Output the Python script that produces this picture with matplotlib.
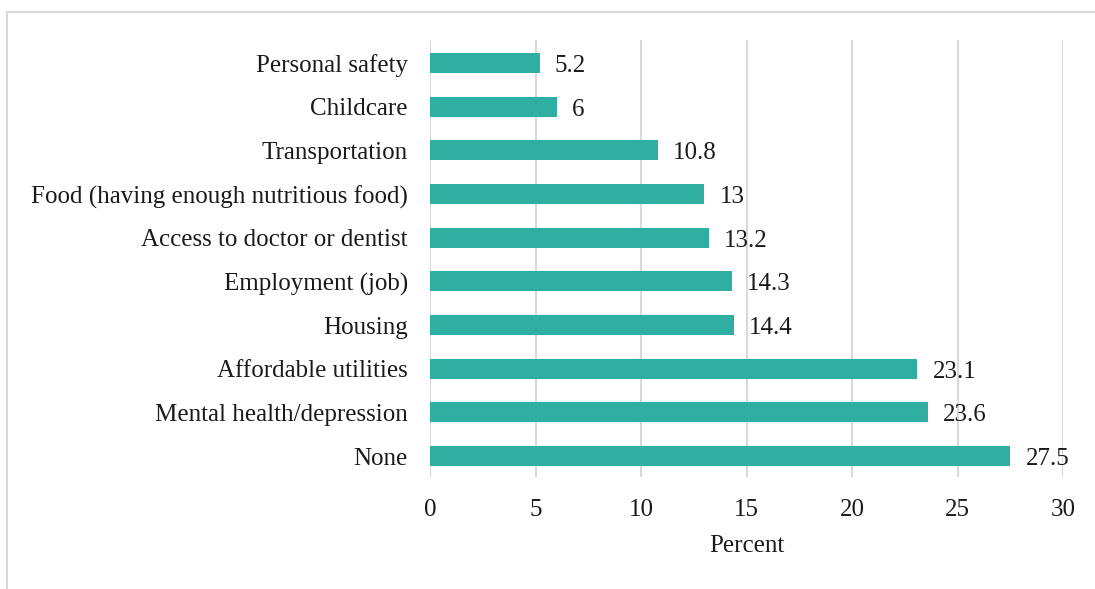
import matplotlib.pyplot as plt
from matplotlib.lines import Line2D

categories = ["None", "Mental health/depression", "Affordable utilities", "Housing",
              "Employment (job)", "Access to doctor or dentist",
              "Food (having enough nutritious food)", "Transportation", "Childcare",
              "Personal safety"]
values = [27.5, 23.6, 23.1, 14.4, 14.3, 13.2, 13, 10.8, 6, 5.2]
value_labels = ["27.5", "23.6", "23.1", "14.4", "14.3", "13.2", "13", "10.8", "6", "5.2"]

plt.rcParams['font.family'] = ['Liberation Serif', 'DejaVu Serif']

fig = plt.figure(figsize=(10.95, 5.89), dpi=100)
ax = fig.add_axes([430 / 1095, 1 - 477 / 589, 633 / 1095, 437 / 589])

pos = list(range(len(categories)))
ax.barh(pos, values, height=0.46, color="#2EAFA2", zorder=2)

for p, v, lab in zip(pos, values, value_labels):
    ax.annotate(lab, (v, p), xytext=(11, -2), textcoords="offset points",
                va="center", ha="left", fontsize=18, color="#1a1a1a")

ax.set_yticks(pos)
ax.set_yticklabels(categories, fontsize=18, color="#1a1a1a")
ax.set_xlim(0, 30)
ax.set_ylim(-0.48, 9.53)
ax.set_xticks(range(0, 31, 5))
ax.tick_params(axis="x", labelsize=18, colors="#1a1a1a", length=0, pad=16)
ax.tick_params(axis="y", length=0, pad=16)
ax.xaxis.grid(True, color="#d9d9d9", linewidth=1.5, zorder=0)
ax.set_axisbelow(True)
for s in ax.spines.values():
    s.set_visible(False)
ax.set_xlabel("Percent", fontsize=18, color="#1a1a1a", labelpad=10)

# outer chart frame
fig.add_artist(Line2D([7 / 1095, 7 / 1095], [0, 1 - 12 / 589], color="#d9d9d9", linewidth=1.5))
fig.add_artist(Line2D([7 / 1095, 1], [1 - 12 / 589, 1 - 12 / 589], color="#d9d9d9", linewidth=1.5))

fig.savefig("out.png", dpi=100)
